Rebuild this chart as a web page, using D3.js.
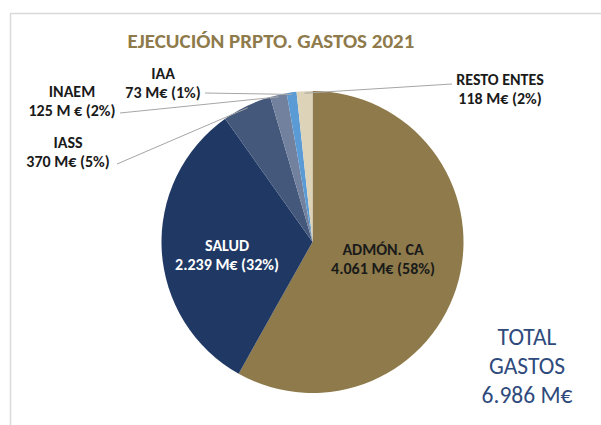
<!DOCTYPE html>
<html><head><meta charset="utf-8">
<script src="https://cdn.jsdelivr.net/npm/d3@7"></script>
<style>body{margin:0;background:#fff;} svg{display:block;font-family:Carlito,Lato,"Open Sans",sans-serif;}</style>
</head><body>
<script>
const categories = ["ADMÓN. CA","SALUD","IASS","INAEM","IAA","RESTO ENTES"];
const values = [4061, 2239, 370, 125, 73, 118];
const valueLabels = ["4.061 M€ (58%)","2.239 M€ (32%)","370 M€ (5%)","125 M € (2%)","73 M€ (1%)","118 M€ (2%)"];
const colors = ["#8e7a4a","#203864","#44587c","#72829e","#5b9bd5","#ddd3b9"];
const title = "EJECUCIÓN PRPTO. GASTOS 2021";
const totalLines = ["TOTAL","GASTOS","6.986 M€"];

const W=601,H=425;
const svg=d3.select("body").append("svg").attr("width",W).attr("height",H);
// frame
svg.append("path").attr("d",`M10.5,${H} V13.5 H${W}`).attr("fill","none").attr("stroke","#d9d9d9").attr("stroke-width",1.5);

svg.append("text").attr("x",271).attr("y",48).attr("text-anchor","middle")
  .attr("font-size",21).attr("font-weight","bold").attr("fill","#8e7a4a").text(title);

const cx=312.5,cy=242,r=151;
const data=categories.map((c,i)=>({c,v:values[i],lab:valueLabels[i],col:colors[i]}));
const pie=d3.pie().value(d=>d.v).sort(null).startAngle(0).endAngle(2*Math.PI);
const arcs=pie(data);
const arc=d3.arc().innerRadius(0).outerRadius(r);
const g=svg.append("g").attr("transform",`translate(${cx},${cy})`);
g.selectAll("path").data(arcs).join("path").attr("d",arc).attr("fill",d=>d.data.col);

const FS=16;
// inside labels
const inside={ "ADMÓN. CA":{x:383,y:255,fill:"#1a1a1a"}, "SALUD":{x:227,y:251,fill:"#ffffff"} };
arcs.forEach(a=>{
  const p=inside[a.data.c];
  if(!p) return;
  const t=svg.append("text").attr("text-anchor","middle").attr("font-size",FS).attr("font-weight","bold").attr("fill",p.fill);
  t.append("tspan").attr("x",p.x).attr("y",p.y).text(a.data.c);
  t.append("tspan").attr("x",p.x).attr("y",p.y+19).text(a.data.lab);
});

// outside labels with leader lines
const outside={
  "IASS":{x:68,y:148,lx:117,ly:164},
  "INAEM":{x:72,y:97,lx:120,ly:113},
  "IAA":{x:163,y:79,lx:205,ly:93},
  "RESTO ENTES":{x:500,y:85,lx:452,ly:84}
};
arcs.forEach(a=>{
  const p=outside[a.data.c];
  if(!p) return;
  const m=(a.startAngle+a.endAngle)/2;
  const ex=cx+(r-2)*Math.sin(m), ey=cy-(r-2)*Math.cos(m);
  svg.append("line").attr("x1",p.lx).attr("y1",p.ly).attr("x2",ex).attr("y2",ey)
    .attr("stroke","#a6a6a6").attr("stroke-width",1);
  const t=svg.append("text").attr("text-anchor","middle").attr("font-size",FS).attr("font-weight","bold").attr("fill","#1a1a1a");
  t.append("tspan").attr("x",p.x).attr("y",p.y).text(a.data.c);
  t.append("tspan").attr("x",p.x).attr("y",p.y+19).text(a.data.lab);
});

const tt=svg.append("text").attr("text-anchor","middle").attr("font-size",23.5).attr("fill","#2f4a7c");
totalLines.forEach((s,i)=>tt.append("tspan").attr("x",527).attr("y",345+i*29).text(s));
</script>
</body></html>
